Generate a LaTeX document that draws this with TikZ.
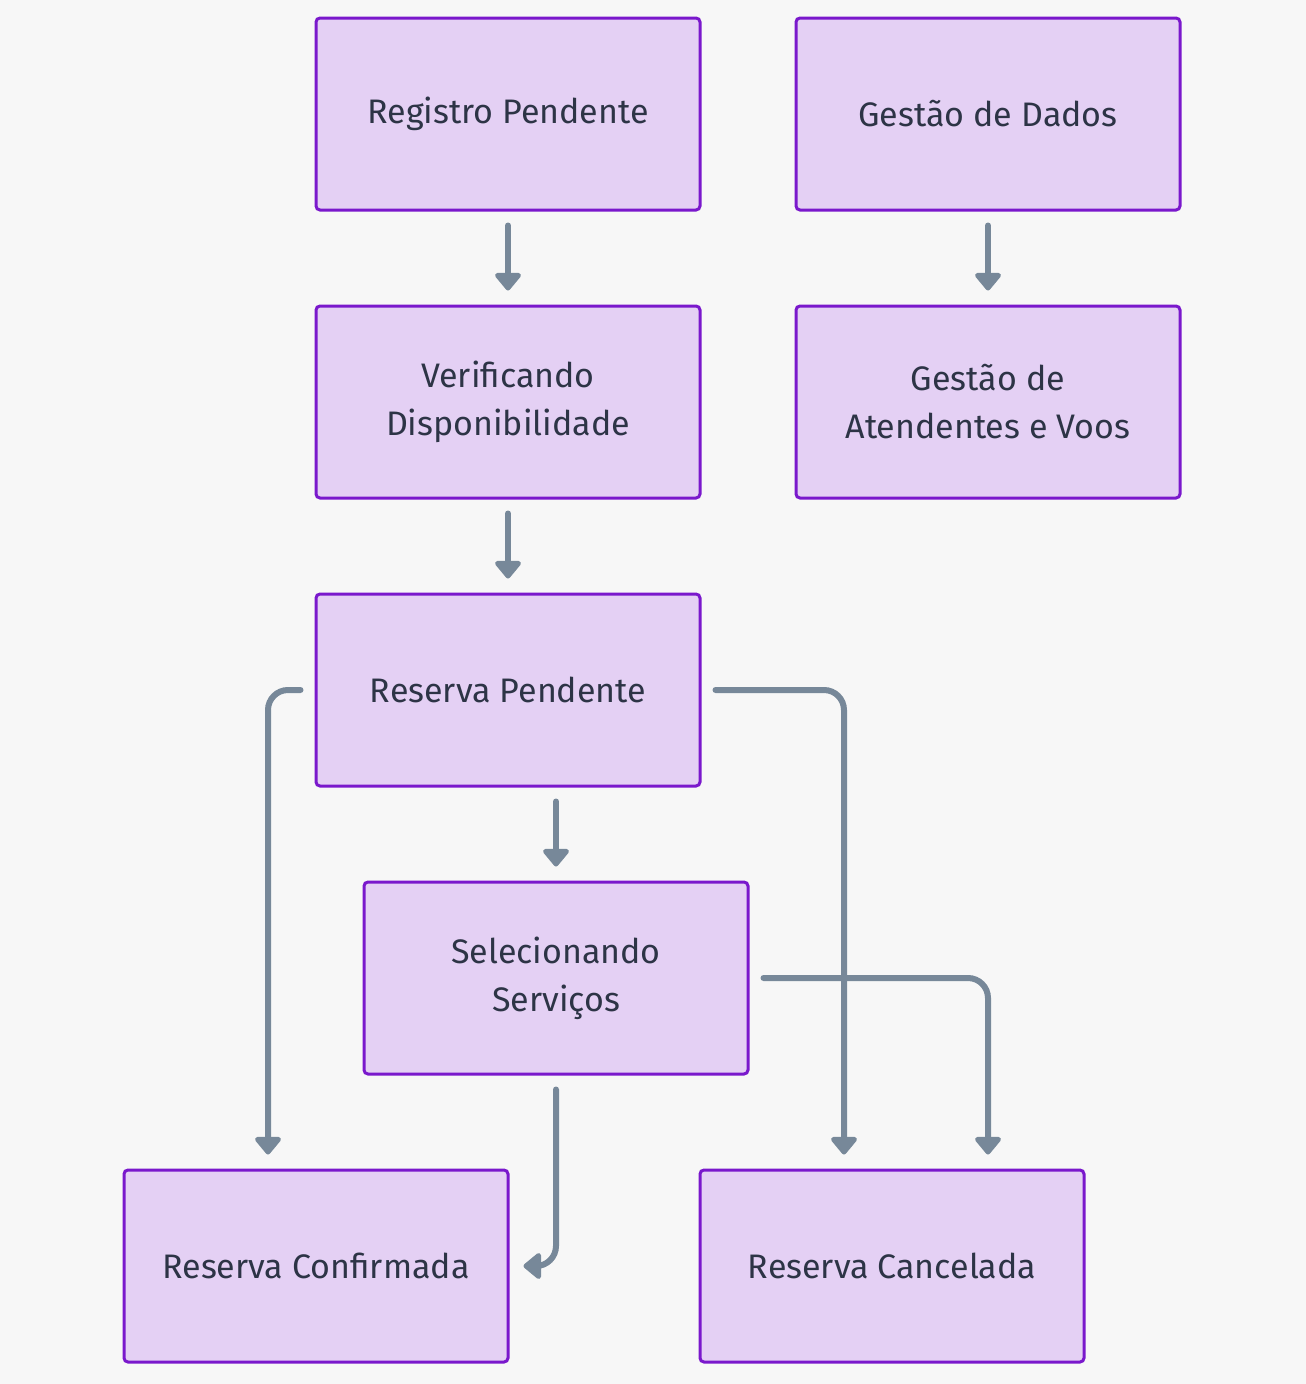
\documentclass[tikz,border=0pt]{standalone}
\usepackage{fontspec}
\setmainfont{Fira Sans}
\usetikzlibrary{arrows.meta}
\definecolor{bgc}{HTML}{F7F7F7}
\definecolor{boxfill}{HTML}{E4D0F4}
\definecolor{boxline}{HTML}{7A18CC}
\definecolor{txt}{HTML}{2D3446}
\definecolor{link}{HTML}{778899}
\tikzset{
    state/.style={draw=boxline, fill=boxfill, line width=3pt, rounded corners=4pt,
        minimum width=384pt, minimum height=192pt, align=center, text=txt,
        font=\fontsize{34pt}{48pt}\selectfont},
    flow/.style={draw=link, line width=6pt, line cap=round, rounded corners=20pt,
        -{Triangle[width=30pt,length=19pt,round]},
        shorten <=14pt, shorten >=14pt}
}
\begin{document}
\begin{tikzpicture}[x=1pt,y=-1pt]
    \fill[bgc](0,0)rectangle(1306,1384);
    \useasboundingbox(0,0)rectangle(1306,1384);
    \node[state](reg) at (508,114){Registro Pendente};
    \node[state](dados) at (988,114){Gestão de Dados};
    \node[state](verif) at (508,402){Verificando\\Disponibilidade};
    \node[state](atend) at (988,402){Gestão de\\Atendentes e Voos};
    \node[state](pend) at (508,690){Reserva Pendente};
    \node[state](serv) at (556,978){Selecionando\\Serviços};
    \node[state](conf) at (316,1266){Reserva Confirmada};
    \node[state](canc) at (892,1266){Reserva Cancelada};
    \draw[flow](reg)--(verif);
    \draw[flow](dados)--(atend);
    \draw[flow](verif)--(pend);
    \draw[flow]([xshift=48pt]pend.south)--(serv.north);
    \draw[flow](pend.west)-|([xshift=-48pt]conf.north);
    \draw[flow](pend.east)-|([xshift=-48pt]canc.north);
    \draw[flow](serv.east)-|([xshift=96pt]canc.north);
    \draw[flow](serv.south)|-(conf.east);
\end{tikzpicture}
\end{document}
